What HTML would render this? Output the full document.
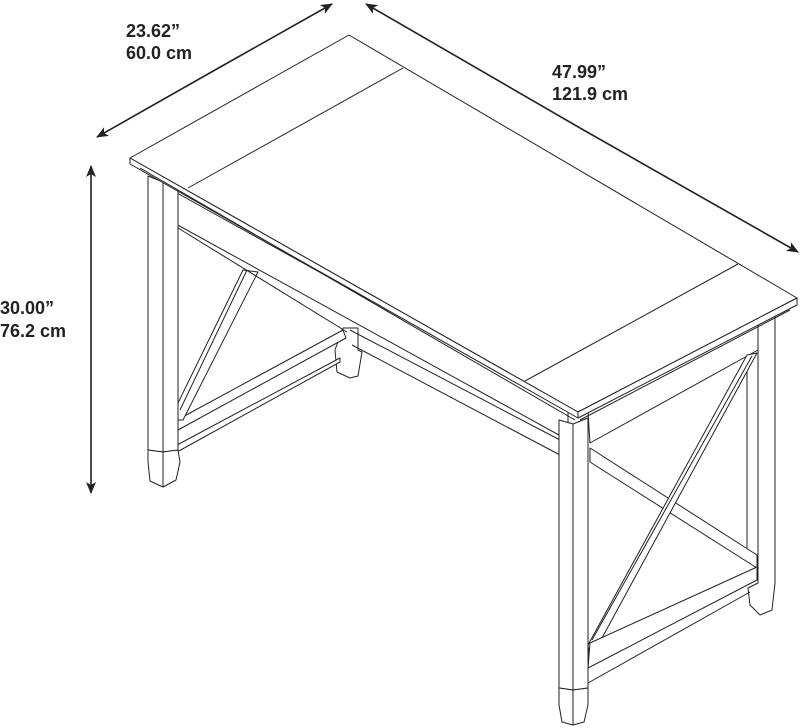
<!DOCTYPE html>
<html><head><style>
html,body{margin:0;padding:0;background:#fff;}
svg{display:block;}
text{font-family:"Liberation Sans",Arial,sans-serif;font-weight:bold;font-size:18px;fill:#222;}
</style></head><body>
<svg width="800" height="728" viewBox="0 0 800 728" xmlns="http://www.w3.org/2000/svg">
<defs>
<marker id="ah" markerWidth="12" markerHeight="10" refX="11" refY="5" orient="auto" markerUnits="userSpaceOnUse">
<path d="M0,0 L12,5 L0,10 L3,5 Z" fill="#222"/>
</marker>
</defs>
<g stroke="#222" stroke-width="1.6" fill="none">
<line x1="215" y1="70" x2="97" y2="137" marker-end="url(#ah)"/>
<line x1="215" y1="70" x2="332" y2="4" marker-end="url(#ah)"/>
<line x1="580" y1="128" x2="366" y2="4" marker-end="url(#ah)"/>
<line x1="580" y1="128" x2="798" y2="252" marker-end="url(#ah)"/>
<line x1="91" y1="330" x2="91" y2="166" marker-end="url(#ah)"/>
<line x1="91" y1="330" x2="91" y2="493" marker-end="url(#ah)"/>
</g>
<text x="126" y="37">23.62”</text>
<text x="126" y="59">60.0 cm</text>
<text x="552" y="78">47.99”</text>
<text x="552" y="100">121.9 cm</text>
<text x="0" y="314">30.00”</text>
<text x="0" y="337">76.2 cm</text>

<g stroke="#222" stroke-width="1" fill="#fff" stroke-linejoin="round">
<path d="M343,328 L358,328 L358,350 L362,352 L358,376 L350,378 L337,372 L335,350 Z"/>
<path d="M758,312 L775,305 L775,583 L772,610 L760,615 L750,605 L748,588 L758,583 Z"/>
<line x1="747" y1="360" x2="747" y2="550"/>
<path d="M177,420 L343,330 L346,338 L178,430 Z"/>
<path d="M177,445 L340,358 L340,362 L177,452 Z"/>
<path d="M243,270 L258,272 L183,420 L177,420 L177,405 Z"/>
<line x1="247" y1="270" x2="180" y2="410"/>
<line x1="350" y1="330" x2="560" y2="440"/>
<line x1="352" y1="345" x2="560" y2="455"/>
<path d="M150,178 L568,410 L568,440 L165,218 Z"/>
<line x1="178" y1="228" x2="347" y2="332"/>
<line x1="165" y1="218" x2="178" y2="228"/>
<path d="M148,176 L163,182 L178,190 L178,450 L163,452 L148,450 Z"/>
<line x1="163" y1="182" x2="163" y2="452"/>
<path d="M148,450 L163,452 L178,450 L180,462 L176,480 L163,487 L150,481 L148,462 Z"/>
<line x1="163" y1="452" x2="163" y2="487"/>
<path d="M588,412 L758,318 L758,350 L590,443 Z"/>
<path d="M590,448 L757,555 L757,568 L590,462 Z"/>
<path d="M588,645 L747,355 L757,353 L590,660 Z"/>
<line x1="592" y1="640" x2="752" y2="356"/>
<path d="M590,643 L757,567 L757,580 L588,668 Z"/>
<line x1="588" y1="683" x2="750" y2="592"/>
<path d="M559,420 L573,424 L588,418 L588,688 L573,690 L559,688 Z"/>
<line x1="573" y1="424" x2="573" y2="690"/>
<path d="M559,688 L573,690 L588,688 L588,705 L584,722 L573,725 L562,722 L559,705 Z"/>
<line x1="573" y1="690" x2="573" y2="725"/>
<path d="M130,158 L349,35 L797,298 L578,412 Z"/>
<path d="M130,158 L130,164 L578,418 L578,412 Z"/>
<path d="M578,412 L578,418 L797,305 L797,298 Z"/>
<line x1="140" y1="168" x2="575" y2="420"/>
<line x1="580" y1="420" x2="790" y2="310"/>
<line x1="403" y1="68" x2="188" y2="188"/>
<line x1="738" y1="264" x2="525" y2="381"/>
</g>
</svg>
</body></html>
